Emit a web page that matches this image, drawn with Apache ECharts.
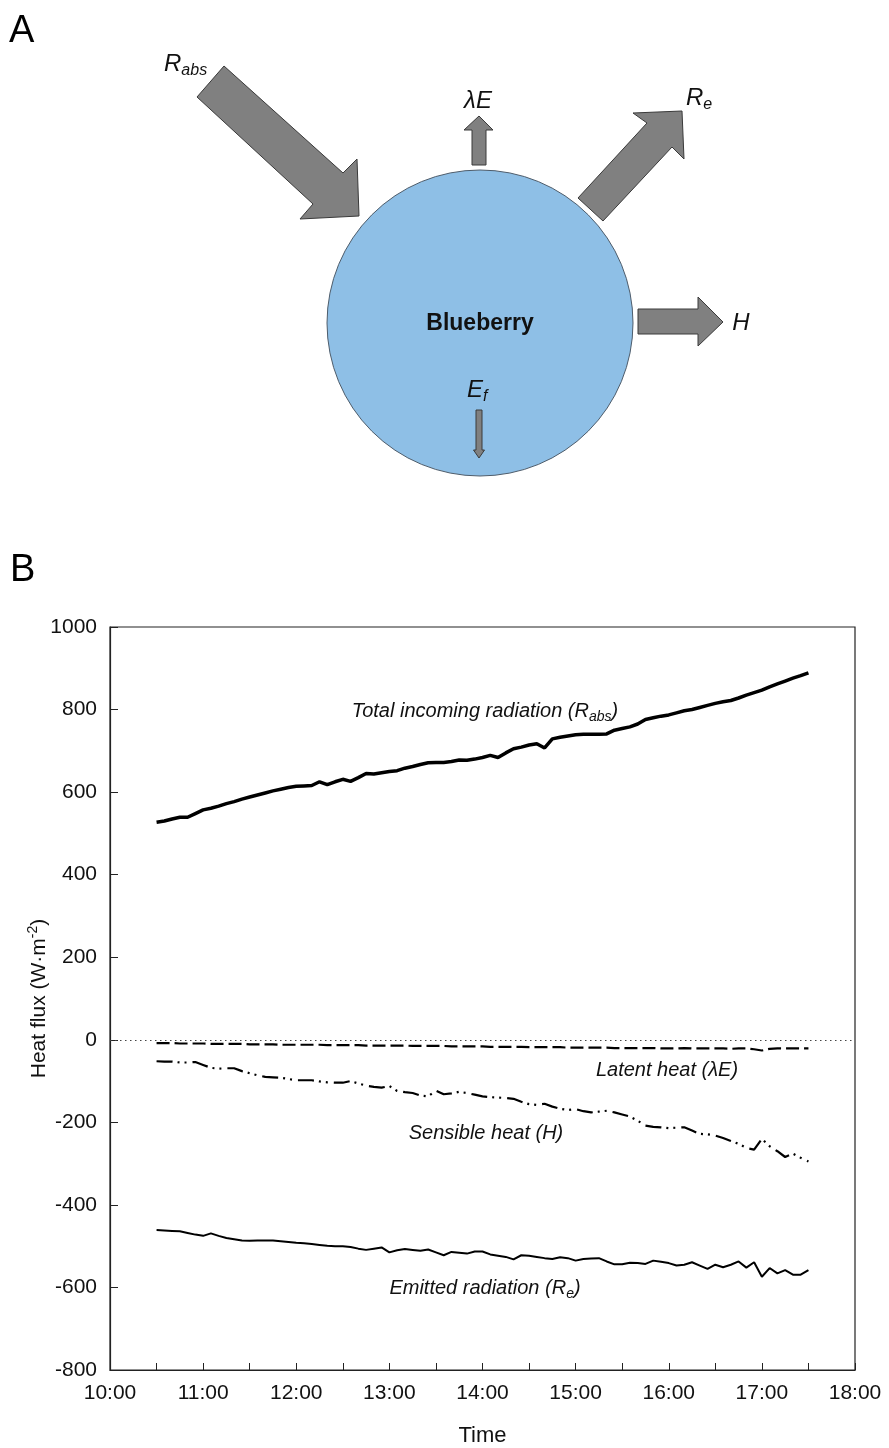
<!DOCTYPE html>
<html>
<head>
<meta charset="utf-8">
<title>Blueberry heat flux</title>
<script src="https://cdn.jsdelivr.net/npm/echarts@6/dist/echarts.min.js"></script>
<style>
    html, body { margin: 0; padding: 0; background: #fff; }
    #chart { width: 889px; height: 1448px; }
</style>
</head>
<body>
<div id="chart"></div>
<script>
// 采样时间 (每5分钟)
const times = [
    '10:30', '10:35', '10:40', '10:45', '10:50', '10:55', '11:00', '11:05', '11:10', '11:15',
    '11:20', '11:25', '11:30', '11:35', '11:40', '11:45', '11:50', '11:55', '12:00', '12:05',
    '12:10', '12:15', '12:20', '12:25', '12:30', '12:35', '12:40', '12:45', '12:50', '12:55',
    '13:00', '13:05', '13:10', '13:15', '13:20', '13:25', '13:30', '13:35', '13:40', '13:45',
    '13:50', '13:55', '14:00', '14:05', '14:10', '14:15', '14:20', '14:25', '14:30', '14:35',
    '14:40', '14:45', '14:50', '14:55', '15:00', '15:05', '15:10', '15:15', '15:20', '15:25',
    '15:30', '15:35', '15:40', '15:45', '15:50', '15:55', '16:00', '16:05', '16:10', '16:15',
    '16:20', '16:25', '16:30', '16:35', '16:40', '16:45', '16:50', '16:55', '17:00', '17:05',
    '17:10', '17:15', '17:20', '17:25', '17:30'
];

// Total incoming radiation (Rabs)
const rabs = [
    527, 530, 535, 539, 539, 548, 557, 561, 566, 572,
    577, 583, 588, 593, 598, 603, 607, 611, 614, 615,
    616, 625, 618, 625, 631, 626, 635, 645, 644, 647,
    650, 652, 658, 662, 667, 671, 672, 672, 674, 678,
    677, 680, 684, 689, 684, 695, 705, 709, 714, 717,
    707, 729, 733, 736, 739, 740, 740, 740, 741, 750,
    754, 758, 765, 776, 780, 784, 787, 792, 797, 800,
    805, 810, 815, 819, 822, 828, 835, 841, 847, 855,
    862, 869, 876, 882, 889
];

// Latent heat (λE)
const latent = [
    -8, -8, -8, -9, -9, -9, -9, -10, -10, -10,
    -10, -10, -11, -11, -11, -11, -12, -12, -12, -12,
    -12, -12, -13, -13, -13, -13, -13, -14, -14, -14,
    -14, -14, -14, -15, -15, -15, -15, -15, -16, -16,
    -16, -16, -16, -17, -17, -17, -17, -17, -18, -18,
    -18, -18, -18, -19, -19, -19, -19, -19, -19, -20,
    -20, -20, -20, -20, -20, -21, -21, -21, -20, -21,
    -21, -21, -21, -21, -22, -21, -21, -23, -26, -22,
    -21, -21, -21, -21, -21
];

// Sensible heat (H)
const sensible = [
    -52, -53, -53, -55, -55, -54, -61, -68, -70, -69,
    -69, -76, -81, -86, -90, -91, -92, -95, -98, -98,
    -98, -101, -103, -104, -104, -100, -106, -111, -114, -116,
    -112, -124, -127, -129, -135, -137, -123, -132, -130, -126,
    -129, -133, -137, -139, -140, -141, -143, -150, -156, -158,
    -155, -162, -167, -170, -168, -173, -176, -174, -172, -176,
    -181, -186, -196, -208, -211, -212, -214, -213, -212, -220,
    -228, -229, -232, -238, -245, -252, -262, -266, -240, -258,
    -270, -284, -276, -286, -295
];

// Emitted radiation (Re)
const emitted = [
    -461, -462, -463, -464, -468, -472, -475, -469, -475, -480,
    -483, -486, -487, -486, -486, -486, -488, -490, -492, -493,
    -495, -497, -499, -500, -500, -502, -506, -509, -506, -503,
    -515, -510, -507, -509, -511, -508, -515, -522, -514, -516,
    -518, -513, -513, -520, -523, -526, -532, -522, -523, -526,
    -529, -531, -527, -529, -535, -531, -530, -529, -537, -544,
    -544, -540, -541, -543, -535, -538, -541, -547, -545, -539,
    -547, -555, -545, -551, -545, -537, -552, -539, -574, -553,
    -566, -558, -569, -569, -558
];

const FONT = '"Liberation Sans", Arial, Helvetica, sans-serif';

function toHours(t) {
    const parts = t.split(':');
    return Number(parts[0]) + Number(parts[1]) / 60;
}

function pairUp(values) {
    return times.map((t, i) => [toHours(t), values[i]]);
}

// rich text styles for graphic texts
function richLabel(size, subSize) {
    return {
        i: { fontFamily: FONT, fontStyle: 'italic', fontSize: size, fill: '#111', lineHeight: size + 6 },
        s: { fontFamily: FONT, fontStyle: 'italic', fontSize: subSize, fill: '#111', lineHeight: subSize, verticalAlign: 'bottom' }
    };
}

function label(x, y, text, size, subSize, align) {
    return {
        type: 'text',
        x: x,
        y: y,
        silent: true,
        style: {
            text: text,
            rich: richLabel(size, subSize),
            align: align || 'center',
            verticalAlign: 'middle'
        }
    };
}

function arrow(points) {
    return {
        type: 'polygon',
        silent: true,
        shape: { points: points },
        style: { fill: '#808080', stroke: '#3a3a3a', lineWidth: 1 }
    };
}

function initChart() {
    const chart = echarts.init(document.getElementById('chart'));

    const lineBase = {
        type: 'line',
        symbol: 'none',
        showSymbol: false,
        silent: true
    };

    const option = {
        animation: false,
        backgroundColor: '#fff',
        grid: {
            left: 110,
            right: 34,
            top: 627,
            bottom: 78,
            show: true,
            borderColor: '#222',
            borderWidth: 1.2,
            containLabel: false,
            outerBoundsMode: 'none'
        },
        xAxis: {
            type: 'value',
            min: 10,
            max: 18,
            interval: 1,
            name: 'Time',
            nameLocation: 'middle',
            nameGap: 55,
            nameMoveOverlap: false,
            nameTextStyle: { fontFamily: FONT, fontSize: 22, color: '#111' },
            axisLine: { show: true, onZero: false, lineStyle: { color: '#222', width: 1.2 } },
            axisTick: { show: true, inside: true, length: 7, lineStyle: { color: '#222' } },
            minorTick: { show: true, splitNumber: 2, length: 7, lineStyle: { color: '#222' } },
            splitLine: { show: false },
            axisLabel: {
                fontFamily: FONT,
                fontSize: 21,
                color: '#111',
                margin: 13,
                formatter: v => v + ':00'
            }
        },
        yAxis: {
            type: 'value',
            min: -800,
            max: 1000,
            interval: 200,
            name: 'Heat flux (W·m{sup|-2})',
            nameLocation: 'middle',
            nameGap: 58,
            nameMoveOverlap: false,
            nameRotate: 90,
            nameTextStyle: {
                fontFamily: FONT,
                fontSize: 21,
                color: '#111',
                lineHeight: 26,
                rich: {
                    sup: { fontFamily: FONT, fontSize: 14, color: '#111', lineHeight: 14, verticalAlign: 'top' }
                }
            },
            axisLine: { show: true, onZero: false, lineStyle: { color: '#222', width: 1.2 } },
            axisTick: { show: true, inside: true, length: 8, lineStyle: { color: '#222' } },
            splitLine: { show: false },
            axisLabel: {
                fontFamily: FONT,
                fontSize: 21,
                color: '#111',
                margin: 13,
                formatter: v => String(v)
            }
        },
        series: [
            Object.assign({}, lineBase, {
                name: 'Rabs',
                data: pairUp(rabs),
                lineStyle: { color: '#000', width: 3.5 }
            }),
            Object.assign({}, lineBase, {
                name: 'λE',
                data: pairUp(latent),
                lineStyle: { color: '#000', width: 2.2, type: [13, 5] },
                markLine: {
                    silent: true,
                    symbol: 'none',
                    label: { show: false },
                    lineStyle: { color: '#444', width: 1, type: [1.5, 3.5] },
                    data: [{ yAxis: 0 }]
                }
            }),
            Object.assign({}, lineBase, {
                name: 'H',
                data: pairUp(sensible),
                lineStyle: { color: '#000', width: 2.2, type: [16, 5, 2, 5, 2, 6] }
            }),
            Object.assign({}, lineBase, {
                name: 'Re',
                data: pairUp(emitted),
                lineStyle: { color: '#000', width: 2 }
            })
        ],
        graphic: [
            // 面板字母
            { type: 'text', x: 9, y: 32, silent: true,
              style: { text: 'A', fontFamily: FONT, fontSize: 38, fill: '#000', verticalAlign: 'middle' } },
            { type: 'text', x: 10, y: 571, silent: true,
              style: { text: 'B', fontFamily: FONT, fontSize: 38, fill: '#000', verticalAlign: 'middle' } },

            // 蓝莓示意图
            { type: 'circle', silent: true, shape: { cx: 480, cy: 323, r: 153 },
              style: { fill: '#8ebfe6', stroke: '#4d5c6b', lineWidth: 1 } },
            arrow([[224, 66], [343, 173], [357, 159], [359, 216], [300, 219], [313, 204], [197, 97]]),
            arrow([[472, 165], [472, 130], [464, 130], [479, 116], [493, 130], [486, 130], [486, 165]]),
            arrow([[578, 198], [647, 123], [633, 113], [682, 111], [684, 159], [672, 147], [603, 221]]),
            arrow([[638, 309], [698, 309], [698, 297], [723, 322], [698, 346], [698, 334], [638, 334]]),
            arrow([[476, 410], [482, 410], [482, 450], [484.5, 450], [479, 458], [473.5, 450], [476, 450]]),
            { type: 'text', x: 480, y: 324, silent: true,
              style: { text: 'Blueberry', fontFamily: FONT, fontSize: 23, fontWeight: 'bold', fill: '#111',
                       align: 'center', verticalAlign: 'middle' } },
            label(164, 64, '{i|R}{s|abs}', 24, 16, 'left'),
            label(478, 101, '{i|λE}', 24, 16),
            label(686, 98, '{i|R}{s|e}', 24, 16, 'left'),
            label(741, 323, '{i|H}', 24, 16),
            label(467, 390, '{i|E}{s|f}', 24, 16, 'left'),

            // 曲线标注
            label(485, 711, '{i|Total incoming radiation (R}{s|abs}{i|)}', 20, 14),
            label(667, 1070, '{i|Latent heat (λE)}', 20, 14),
            label(486, 1133, '{i|Sensible heat (H)}', 20, 14),
            label(485, 1288, '{i|Emitted radiation (R}{s|e}{i|)}', 20, 14)
        ]
    };

    chart.setOption(option);
}

document.addEventListener('DOMContentLoaded', function () {
    initChart();
});
</script>
</body>
</html>
